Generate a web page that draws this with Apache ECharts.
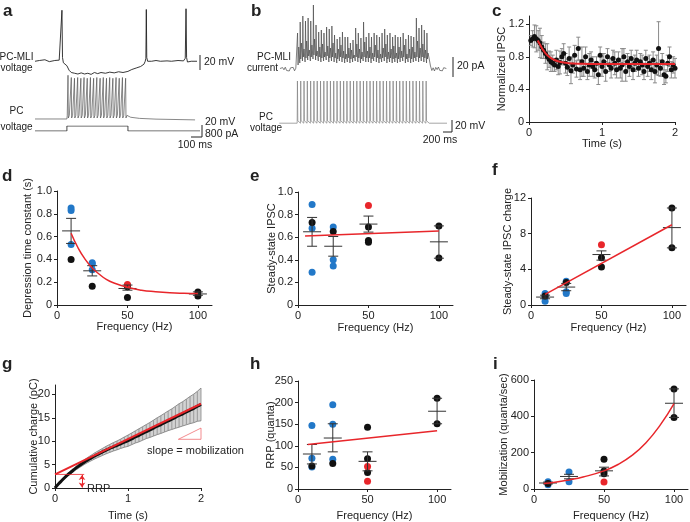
<!DOCTYPE html>
<html>
<head>
<meta charset="utf-8">
<script src="https://cdn.jsdelivr.net/npm/echarts@6/dist/echarts.min.js"></script>
<style>
  html, body { margin: 0; padding: 0; background: #fff; }
  #chart { width: 690px; height: 522px; }
</style>
</head>
<body>
<div id="chart"></div>
<script>
(function () {
    'use strict';

    var RED = '#e8262b';
    var BLUE = '#2278c8';
    var BLACK = '#111';
    var FONT = '"Liberation Sans", Arial, sans-serif';

    // ---- panel a: PC-MLI voltage (ms, mV), PC voltage, current step ----
    var aMliTrace = [[0,-55],[40,-54],[90,-53],[130,-55.5],[180,-54],[220,-53.5],[238,-52],[245,13],[250,-50],
        [258,-57],[290,-61],[310,-67],[330,-70],[360,-71],[390,-72],[420,-70.5],[450,-72],[480,-71],[510,-72.5],
        [540,-70],[570,-71.5],[600,-70],[640,-71],[680,-69.5],[720,-70.5],[760,-69],[800,-70],[845,-68.5],[880,-66],
        [920,-64],[960,-62],[990,-59],[1002,-55],[1008,-51],[1012,14],[1016,-50],[1024,-55],[1060,-55],[1100,-54],
        [1140,-55],[1200,-54.5],[1240,-55],[1300,-54],[1350,-54.5],[1366,-51],[1373,15],[1378,-50],[1386,-56],
        [1420,-55],[1473,-55]];
    var aPcSpikeTimes = [298,328,357,386,415,444,473,502,531,560,590,619,648,677,706,735,764,793,822];
    var aPcSpikePeaks = [13,10,9,10,9,10,9,10,9,10,9,10,9,10,9,10,9,10,9];
    var aPcRest = -45.3;
    var aPcTail = [[845,-41],[870,-43],[950,-44.5],[1100,-45.5],[1455,-46.5]];
    var aCurrent = [[0,0],[290,0],[290,400],[845,400],[845,0],[1500,0]];

    // ---- panel b: PC-MLI current (s, pA), PC voltage ----
    var bPreTimes = [-0.26,-0.24,-0.22,-0.2,-0.18,-0.16,-0.14,-0.12,-0.1,-0.08,-0.06,-0.04,-0.02];
    var bPreNoise = [0.5,-1.2,1.4,-0.8,1.8,-1.5,0.3,-2,1.2,-0.5,1.6,-1.8,0.8];
    var bPostTimes = [2.02,2.04,2.06,2.08,2.1,2.12,2.14,2.16,2.18,2.2,2.22,2.24,2.26];
    var bPostNoise = [3,-1.5,1.2,-2,1.6,-0.6,2,-1.4,0.4,-1.8,1.3,-0.7,0.5];
    var bIpscTimes = [0,0.04,0.08,0.12,0.16,0.2,0.24,0.28,0.32,0.36,0.4,0.44,0.48,0.52,0.56,0.6,0.64,0.68,0.72,
        0.76,0.8,0.84,0.88,0.92,0.96,1,1.04,1.08,1.12,1.16,1.2,1.24,1.28,1.32,1.36,1.4,1.44,1.48,1.52,1.56,1.6,
        1.64,1.68,1.72,1.76,1.8,1.84,1.88,1.92,1.96];
    var bIpscPeaks = [36,47,53,48,51,48,64,44,37,39,36,42,40,43,34,30,32,37,32,32,26,29,41,36,31,47,32,36,32,
        36,34,32,36,40,34,36,32,34,32,32,36,30,34,33,32,51,41,44,39,36];
    var bIpscDecay = [22,26,20,28,19,24,30,18,22,25,17,23,21,26,16,20,24,18,15,21,19,14,25,20,17,27,18,22,16,
        24,19,15,21,25,17,20,23,16,22,18,24,15,20,22,17,28,21,25,19,16];
    var bIpscTroughs = [0,6,8,7,9,8,10,9,8,7,8,9,7,8,7,6,8,7,6,7,6,7,8,7,6,8,7,7,6,8,7,6,7,8,6,7,6,7,6,7,8,
        6,7,6,7,8,7,8,7,6];
    var bPcSpikeTimes = [0,0.05,0.1,0.15,0.2,0.25,0.3,0.35,0.4,0.45,0.5,0.55,0.6,0.65,0.7,0.75,0.8,0.85,0.9,
        0.95,1,1.05,1.1,1.15,1.2,1.25,1.3,1.35,1.4,1.45,1.5,1.55,1.6,1.65,1.7,1.75,1.8,1.85,1.9,1.95];
    var bPcRest = -67;
    var bPcPeak = 3;

    // ---- panel c: normalized IPSC ----
    var cTime = [0.025,0.05,0.075,0.1,0.125,0.15,0.175,0.2,0.225,0.25,0.275,0.3,0.325,0.35,0.375,0.4,0.425,
        0.45,0.475,0.5,0.525,0.55,0.575,0.6,0.625,0.65,0.675,0.7,0.725,0.75,0.775,0.8,0.825,0.85,0.875,0.9,
        0.925,0.95,0.975,1,1.025,1.05,1.075,1.1,1.125,1.15,1.175,1.2,1.225,1.25,1.275,1.3,1.325,1.35,1.375,
        1.4,1.425,1.45,1.475,1.5,1.525,1.55,1.575,1.6,1.625,1.65,1.675,1.7,1.725,1.75,1.775,1.8,1.825,1.85,
        1.875,1.9,1.925,1.95,1.975,2];
    var cMean = [1.00,1.02,1.05,1.02,1.00,0.97,0.92,0.88,0.84,0.80,0.77,0.74,
        0.72,0.70,0.76,0.68,0.73,0.80,0.84,0.72,0.67,0.78,0.63,0.70,
        0.82,0.65,0.90,0.64,0.74,0.66,0.80,0.62,0.70,0.76,0.68,0.64,
        0.72,0.58,0.82,0.68,0.74,0.62,0.80,0.70,0.66,0.78,0.72,0.64,
        0.76,0.66,0.70,0.80,0.62,0.74,0.68,0.78,0.64,0.72,0.76,0.66,
        0.74,0.70,0.62,0.78,0.68,0.72,0.64,0.76,0.62,0.70,0.90,0.66,
        0.74,0.58,0.56,0.72,0.80,0.64,0.70,0.66];
    var cErr = [0.06,0.10,0.14,0.16,0.12,0.18,0.14,0.10,0.12,0.16,0.10,0.12,
        0.10,0.08,0.12,0.10,0.14,0.10,0.12,0.12,0.10,0.14,0.16,0.10,
        0.12,0.10,0.14,0.12,0.18,0.10,0.12,0.10,0.14,0.10,0.12,0.10,
        0.08,0.12,0.10,0.12,0.10,0.12,0.10,0.08,0.12,0.10,0.14,0.10,
        0.10,0.12,0.20,0.10,0.12,0.10,0.12,0.10,0.12,0.10,0.12,0.10,
        0.10,0.12,0.10,0.10,0.12,0.10,0.12,0.10,0.14,0.12,0.33,0.10,
        0.10,0.12,0.08,0.10,0.12,0.10,0.10,0.12];
    var cFit = [[0.12,1.0],[0.15,0.95],[0.2,0.875],[0.25,0.82],[0.3,0.785],[0.35,0.76],[0.4,0.745],
        [0.5,0.727],[0.6,0.718],[0.8,0.712],[1.0,0.71],[1.5,0.71],[2.0,0.71]];

    // ---- panel d: depression time constant (s) ----
    var dBlue = [[10,0.85],[10,0.83],[10,0.53],[25,0.37],[25,0.36],[25,0.31]];
    var dBlack = [[10,0.40],[25,0.165],[50,0.16],[50,0.17],[50,0.065],[100,0.115],[100,0.08]];
    var dRed = [[50,0.18]];
    var dStats = [[10,0.65,0.54,0.76],[25,0.30,0.255,0.345],[50,0.145,0.13,0.175],[100,0.097,0.085,0.115]];
    var dFit = [[10,0.63],[15,0.5],[20,0.4],[25,0.325],[30,0.27],[35,0.225],[40,0.195],[50,0.155],
        [60,0.13],[70,0.117],[80,0.108],[90,0.103],[100,0.1]];

    // ---- panel e: steady-state IPSC ----
    var eBlue = [[10,0.89],[10,0.68],[10,0.29],[25,0.69],[25,0.40],[25,0.345]];
    var eBlack = [[10,0.73],[25,0.65],[50,0.69],[50,0.57],[50,0.555],[100,0.70],[100,0.415]];
    var eRed = [[50,0.88]];
    var eStats = [[10,0.648,0.52,0.775],[25,0.52,0.432,0.606],[50,0.716,0.645,0.787],[100,0.559,0.414,0.70]];
    var eFit = [[5,0.61],[100,0.655]];

    // ---- panel f: steady-state IPSC charge ----
    var fBlue = [[10,1.3],[10,0.9],[10,0.41],[25,2.65],[25,1.49],[25,1.3]];
    var fBlack = [[10,1.0],[25,2.53],[50,5.29],[50,4.25],[100,10.88],[100,6.41]];
    var fRed = [[50,6.75]];
    var fStats = [[10,0.89,0.7,1.1],[25,2.01,1.6,2.42],[50,5.66,5.03,6.07],[100,8.68,6.41,10.88]];
    var fFit = [[10,1.2],[100,9.0]];

    // ---- panel g: cumulative charge (pC) ----
    var gTime = [0,0.05,0.1,0.15,0.2,0.25,0.3,0.35,0.4,0.45,0.5,0.55,0.6,0.65,0.7,0.75,0.8,0.85,0.9,0.95,1,
        1.05,1.1,1.15,1.2,1.25,1.3,1.35,1.4,1.45,1.5,1.55,1.6,1.65,1.7,1.75,1.8,1.85,1.9,1.95,2];
    var gMean = [0,0.9,1.7,2.5,3.15,3.8,4.4,4.95,5.5,6.0,6.45,6.9,7.3,7.7,8.1,8.45,8.8,9.1,9.45,9.8,10.1,
        10.5,10.9,11.25,11.65,12.05,12.4,12.8,13.2,13.55,13.95,14.35,14.7,15.1,15.5,15.85,16.25,16.65,17.0,17.45,17.85];
    var gSd = [0,0.1,0.2,0.25,0.3,0.35,0.4,0.45,0.5,0.55,0.6,0.65,0.7,0.75,0.8,0.85,0.9,0.95,1.0,1.1,1.2,
        1.25,1.3,1.4,1.45,1.5,1.6,1.7,1.8,1.9,2.0,2.1,2.2,2.35,2.5,2.6,2.75,2.9,3.05,3.2,3.5];
    var gFit = [[0,2.9],[2,18.0]];
    var gRrp = 2.9;
    var gRrpArrowT = 0.37;
    var gSlopeTri = [[1.69,10.4],[2,10.4],[2,12.8],[1.69,10.4]];

    // ---- panel h: RRP (quanta) ----
    var hBlue = [[10,147],[10,71],[10,51],[25,195],[25,150],[25,69]];
    var hBlack = [[10,53],[25,59],[50,143],[50,70],[50,38],[100,210],[100,151]];
    var hRed = [[50,52],[50,18]];
    var hStats = [[10,81,58,103],[25,118,86,151],[50,64,42,86],[100,180,151,210]];
    var hFit = [[7,103],[100,135]];

    // ---- panel i: mobilization (quanta/sec) ----
    var iBlue = [[10,40],[10,23],[25,93],[25,40]];
    var iBlack = [[10,30],[50,164],[50,99],[50,84],[100,551],[100,394]];
    var iRed = [[50,39]];
    var iStats = [[10,33,28,38],[25,69,56,81],[50,100,72,120],[100,472,394,551]];
    var iFit = [[7,30],[15,37],[25,50],[35,66],[50,100],[60,135],[70,185],[80,255],[90,350],[100,470]];

    // ---------- build trace arrays ----------
    var aPcTrace = [[0, aPcRest], [290, aPcRest], [293, -41]];
    aPcSpikeTimes.forEach(function (t, i) {
        aPcTrace.push([t, -41], [t + 2, aPcSpikePeaks[i]], [t + 5, -44], [t + 14, -40.5]);
    });
    aPcTrace = aPcTrace.concat(aPcTail);

    var bMliTrace = [];
    bPreTimes.forEach(function (t, i) { bMliTrace.push([t, bPreNoise[i]]); });
    bIpscTimes.forEach(function (t, i) {
        bMliTrace.push([t, bIpscTroughs[i]], [t + 0.006, bIpscPeaks[i]], [t + 0.014, bIpscTroughs[i] + 4],
            [t + 0.024, bIpscDecay[i]]);
    });
    bPostTimes.forEach(function (t, i) { bMliTrace.push([t, bPostNoise[i]]); });

    var bPcTrace = [[-0.27, bPcRest], [0, bPcRest]];
    bPcSpikeTimes.forEach(function (t) {
        bPcTrace.push([t, bPcRest], [t + 0.004, bPcPeak], [t + 0.01, bPcRest + 4], [t + 0.04, bPcRest + 1]);
    });
    bPcTrace.push([2.0, bPcRest], [2.27, bPcRest]);

    var cDots = cTime.map(function (t, i) { return [t, cMean[i]]; });
    var cBars = cTime.map(function (t, i) { return [t, cMean[i] - cErr[i], cMean[i] + cErr[i]]; });
    var gBand = gTime.map(function (t, i) { return [t, gMean[i] - gSd[i], gMean[i] + gSd[i]]; });
    var gLine = gTime.map(function (t, i) { return [t, gMean[i]]; });

    // ---------- layout ----------
    var grids = [
        {left: 35, top: 5, width: 165, height: 75},     // 0 a PC-MLI
        {left: 35, top: 70, width: 165, height: 60},    // 1 a PC
        {left: 35, top: 126, width: 165, height: 5},    // 2 a current
        {left: 280, top: 0, width: 167, height: 75},    // 3 b PC-MLI
        {left: 280, top: 78, width: 167, height: 47},   // 4 b PC
        {left: 529, top: 16, width: 146, height: 106},  // 5 c
        {left: 57, top: 191, width: 155, height: 114},  // 6 d
        {left: 298, top: 192, width: 155, height: 113}, // 7 e
        {left: 531, top: 198, width: 155, height: 107}, // 8 f
        {left: 55, top: 385, width: 146, height: 108},  // 9 g
        {left: 298, top: 381, width: 153, height: 113}, // 10 h
        {left: 534, top: 380, width: 154, height: 114}  // 11 i
    ];

    function hidden(idx, min, max) {
        return {gridIndex: idx, type: 'value', min: min, max: max, show: false};
    }

    function fmtNum(dec) {
        return function (v) { return v === 0 ? '0' : v.toFixed(dec); };
    }

    function axis(idx, isX, min, max, ticks, dec, name, gap) {
        return {
            gridIndex: idx, type: 'value', min: min, max: max,
            name: name, nameLocation: 'middle', nameGap: gap, nameMoveOverlap: false,
            nameTextStyle: {fontSize: 11, color: '#222', fontFamily: FONT},
            axisLine: {show: true, onZero: false, lineStyle: {color: '#222', width: 1}},
            axisTick: {show: true, length: 3, inside: false, customValues: ticks, lineStyle: {color: '#222'}},
            axisLabel: {show: true, customValues: ticks, formatter: fmtNum(dec), margin: 5,
                fontSize: 11, color: '#222', fontFamily: FONT},
            splitLine: {show: false}
        };
    }

    var xAxes = [
        hidden(0, 0, 1500), hidden(1, 0, 1500), hidden(2, 0, 1500),
        hidden(3, -0.26, 2.27), hidden(4, -0.26, 2.27),
        axis(5, true, 0, 2, [0, 1, 2], 0, 'Time (s)', 16),
        axis(6, true, 0, 110, [0, 50, 100], 0, 'Frequency (Hz)', 16),
        axis(7, true, 0, 110, [0, 50, 100], 0, 'Frequency (Hz)', 17),
        axis(8, true, 0, 110, [0, 50, 100], 0, 'Frequency (Hz)', 17),
        axis(9, true, 0, 2, [0, 1, 2], 0, 'Time (s)', 22),
        axis(10, true, 0, 110, [0, 50, 100], 0, 'Frequency (Hz)', 21),
        axis(11, true, 0, 110, [0, 50, 100], 0, 'Frequency (Hz)', 21)
    ];
    var yAxes = [
        hidden(0, -80, 20), hidden(1, -60, 20), hidden(2, 0, 400),
        hidden(3, -6, 69), hidden(4, -70, 8),
        axis(5, false, 0, 1.3, [0, 0.4, 0.8, 1.2], 1, 'Normalized IPSC', 22),
        axis(6, false, 0, 1, [0, 0.2, 0.4, 0.6, 0.8, 1.0], 1, 'Depression time constant (s)', 24),
        axis(7, false, 0, 1, [0, 0.2, 0.4, 0.6, 0.8, 1.0], 1, 'Steady-state IPSC', 21),
        axis(8, false, 0, 12, [0, 4, 8, 12], 0, 'Steady-state IPSC charge', 18),
        axis(9, false, 0, 22, [0, 5, 10, 15, 20], 0, 'Cumulative charge (pC)', 16),
        axis(10, false, 0, 250, [0, 50, 100, 150, 200, 250], 0, 'RRP (quanta)', 22),
        axis(11, false, 0, 600, [0, 200, 400, 600], 0, 'Mobilization (quanta/sec)', 25)
    ];

    function trace(idx, data, color, width) {
        return {type: 'line', xAxisIndex: idx, yAxisIndex: idx, data: data, showSymbol: false,
            lineStyle: {color: color, width: width}, silent: true, z: 2};
    }

    function dots(idx, data, color, size) {
        return {type: 'scatter', xAxisIndex: idx, yAxisIndex: idx, data: data, symbolSize: size || 7,
            itemStyle: {color: color, opacity: 1}, silent: true, z: 2};
    }

    function fit(idx, data, smooth, width) {
        return {type: 'line', xAxisIndex: idx, yAxisIndex: idx, data: data, smooth: smooth, showSymbol: false,
            lineStyle: {color: RED, width: width || 1.5}, silent: true, z: 5};
    }

    function stats(idx, data) {
        return {
            type: 'custom', xAxisIndex: idx, yAxisIndex: idx, data: data, z: 4, silent: true,
            renderItem: function (params, api) {
                var x = api.value(0);
                var c = api.coord([x, api.value(1)]);
                var lo = api.coord([x, api.value(2)]);
                var hi = api.coord([x, api.value(3)]);
                var s = {stroke: '#333', lineWidth: 1};
                return {type: 'group', children: [
                    {type: 'line', shape: {x1: c[0] - 9, y1: c[1], x2: c[0] + 9, y2: c[1]}, style: s},
                    {type: 'line', shape: {x1: c[0], y1: lo[1], x2: c[0], y2: hi[1]}, style: s},
                    {type: 'line', shape: {x1: c[0] - 5, y1: lo[1], x2: c[0] + 5, y2: lo[1]}, style: s},
                    {type: 'line', shape: {x1: c[0] - 5, y1: hi[1], x2: c[0] + 5, y2: hi[1]}, style: s}
                ]};
            }
        };
    }

    function freqPanel(idx, blue, black, red, st, fitData, smooth) {
        return [
            dots(idx, blue, BLUE), dots(idx, black, BLACK), dots(idx, red, RED),
            stats(idx, st), fit(idx, fitData, smooth)
        ];
    }

    var series = [
        trace(0, aMliTrace, '#222', 0.9),
        trace(1, aPcTrace, '#555', 0.7),
        trace(2, aCurrent, '#333', 0.9),
        trace(3, bMliTrace, '#4a4a4a', 0.7),
        trace(4, bPcTrace, '#808080', 0.7),
        // c
        {
            type: 'custom', xAxisIndex: 5, yAxisIndex: 5, data: cBars, z: 1, silent: true,
            renderItem: function (params, api) {
                var lo = api.coord([api.value(0), api.value(1)]);
                var hi = api.coord([api.value(0), api.value(2)]);
                var s = {stroke: '#8a8a8a', lineWidth: 1};
                return {type: 'group', children: [
                    {type: 'line', shape: {x1: lo[0], y1: lo[1], x2: hi[0], y2: hi[1]}, style: s},
                    {type: 'line', shape: {x1: lo[0] - 2, y1: lo[1], x2: lo[0] + 2, y2: lo[1]}, style: s},
                    {type: 'line', shape: {x1: hi[0] - 2, y1: hi[1], x2: hi[0] + 2, y2: hi[1]}, style: s}
                ]};
            }
        },
        dots(5, cDots, BLACK, 5),
        fit(5, cFit, true, 2),
        // g
        {
            type: 'custom', xAxisIndex: 9, yAxisIndex: 9, data: gBand, z: 1, silent: true,
            renderItem: function (params, api) {
                var i = params.dataIndex;
                var lo = api.coord([api.value(0), api.value(1)]);
                var hi = api.coord([api.value(0), api.value(2)]);
                var kids = [];
                if (i < gBand.length - 1) {
                    var n = gBand[i + 1];
                    var lo2 = api.coord([n[0], n[1]]);
                    var hi2 = api.coord([n[0], n[2]]);
                    kids.push({type: 'polygon', shape: {points: [hi, hi2, lo2, lo]},
                        style: {fill: '#d2d2d2', stroke: null}});
                    kids.push({type: 'line', shape: {x1: hi[0], y1: hi[1], x2: hi2[0], y2: hi2[1]},
                        style: {stroke: '#777', lineWidth: 0.8}});
                    kids.push({type: 'line', shape: {x1: lo[0], y1: lo[1], x2: lo2[0], y2: lo2[1]},
                        style: {stroke: '#777', lineWidth: 0.8}});
                }
                kids.push({type: 'line', shape: {x1: lo[0], y1: lo[1], x2: hi[0], y2: hi[1]},
                    style: {stroke: '#888', lineWidth: 0.8}});
                return {type: 'group', children: kids};
            }
        },
        {type: 'line', xAxisIndex: 9, yAxisIndex: 9, data: gLine, smooth: true, showSymbol: false,
            lineStyle: {color: BLACK, width: 3}, silent: true, z: 3},
        fit(9, gFit, false, 2),
        {type: 'line', xAxisIndex: 9, yAxisIndex: 9, data: [[0, gRrp], [0.4, gRrp]], showSymbol: false,
            lineStyle: {color: RED, width: 0.8}, silent: true, z: 5,
            markLine: {silent: true, symbol: ['arrow', 'arrow'], symbolSize: 5, label: {show: false},
                lineStyle: {color: RED, width: 1, type: 'solid'},
                data: [[{coord: [gRrpArrowT, 0.1]}, {coord: [gRrpArrowT, gRrp - 0.1]}]]}},
        {type: 'line', xAxisIndex: 9, yAxisIndex: 9, data: gSlopeTri, showSymbol: false,
            lineStyle: {color: '#ee5a5e', width: 0.7}, silent: true, z: 5}
    ];
    series = series.concat(
        freqPanel(6, dBlue, dBlack, dRed, dStats, dFit, true),
        freqPanel(7, eBlue, eBlack, eRed, eStats, eFit, false),
        freqPanel(8, fBlue, fBlack, fRed, fStats, fFit, false),
        freqPanel(10, hBlue, hBlack, hRed, hStats, hFit, false),
        freqPanel(11, iBlue, iBlack, iRed, iStats, iFit, true)
    );

    // ---------- annotation text and scale bars ----------
    function txt(s, x, y, size, opts) {
        opts = opts || {};
        return {type: 'text', silent: true, z: 10, style: {
            text: s, x: x, y: y, fill: '#222', fontSize: size, fontFamily: FONT,
            fontWeight: opts.bold ? 'bold' : 'normal',
            align: opts.align || 'left', verticalAlign: opts.valign || 'middle'
        }};
    }
    function bar(x1, y1, x2, y2) {
        return {type: 'line', silent: true, z: 10, shape: {x1: x1, y1: y1, x2: x2, y2: y2},
            style: {stroke: '#222', lineWidth: 1}};
    }

    var graphics = [
        txt('a', 3, 3, 17, {bold: true, valign: 'top'}),
        txt('b', 251, 3, 17, {bold: true, valign: 'top'}),
        txt('c', 492, 3, 17, {bold: true, valign: 'top'}),
        txt('d', 2, 168, 17, {bold: true, valign: 'top'}),
        txt('e', 250, 168, 17, {bold: true, valign: 'top'}),
        txt('f', 492, 162, 17, {bold: true, valign: 'top'}),
        txt('g', 2, 356, 17, {bold: true, valign: 'top'}),
        txt('h', 250, 356, 17, {bold: true, valign: 'top'}),
        txt('i', 493, 356, 17, {bold: true, valign: 'top'}),

        txt('PC-MLI', 16.5, 57, 10, {align: 'center'}),
        txt('voltage', 16.5, 68, 10, {align: 'center'}),
        txt('PC', 16.5, 111, 10, {align: 'center'}),
        txt('voltage', 16.5, 127, 10, {align: 'center'}),
        bar(200, 55, 200, 70), txt('20 mV', 204, 62, 10.5),
        bar(202, 125, 202, 137), bar(191, 137, 202, 137),
        txt('20 mV', 205, 122, 10.5), txt('800 pA', 205, 134, 10.5),
        txt('100 ms', 195, 145, 10.5, {align: 'center'}),

        txt('PC-MLI', 274, 57, 10, {align: 'center'}),
        txt('current', 278, 68, 10, {align: 'right'}),
        txt('PC', 266, 117, 10, {align: 'center'}),
        txt('voltage', 266, 128, 10, {align: 'center'}),
        bar(453, 57, 453, 77), txt('20 pA', 457, 66, 10.5),
        bar(452, 120, 452, 132), bar(443, 132, 452, 132),
        txt('20 mV', 455, 126, 10.5), txt('200 ms', 440, 140, 10.5, {align: 'center'}),

        txt('RRP', 87, 489, 11),
        txt('slope = mobilization', 147, 451, 11)
    ];

    var chart = echarts.init(document.getElementById('chart'));
    chart.setOption({
        animation: false,
        backgroundColor: '#fff',
        grid: grids,
        xAxis: xAxes,
        yAxis: yAxes,
        series: series,
        graphic: graphics
    });
})();
</script>
</body>
</html>
